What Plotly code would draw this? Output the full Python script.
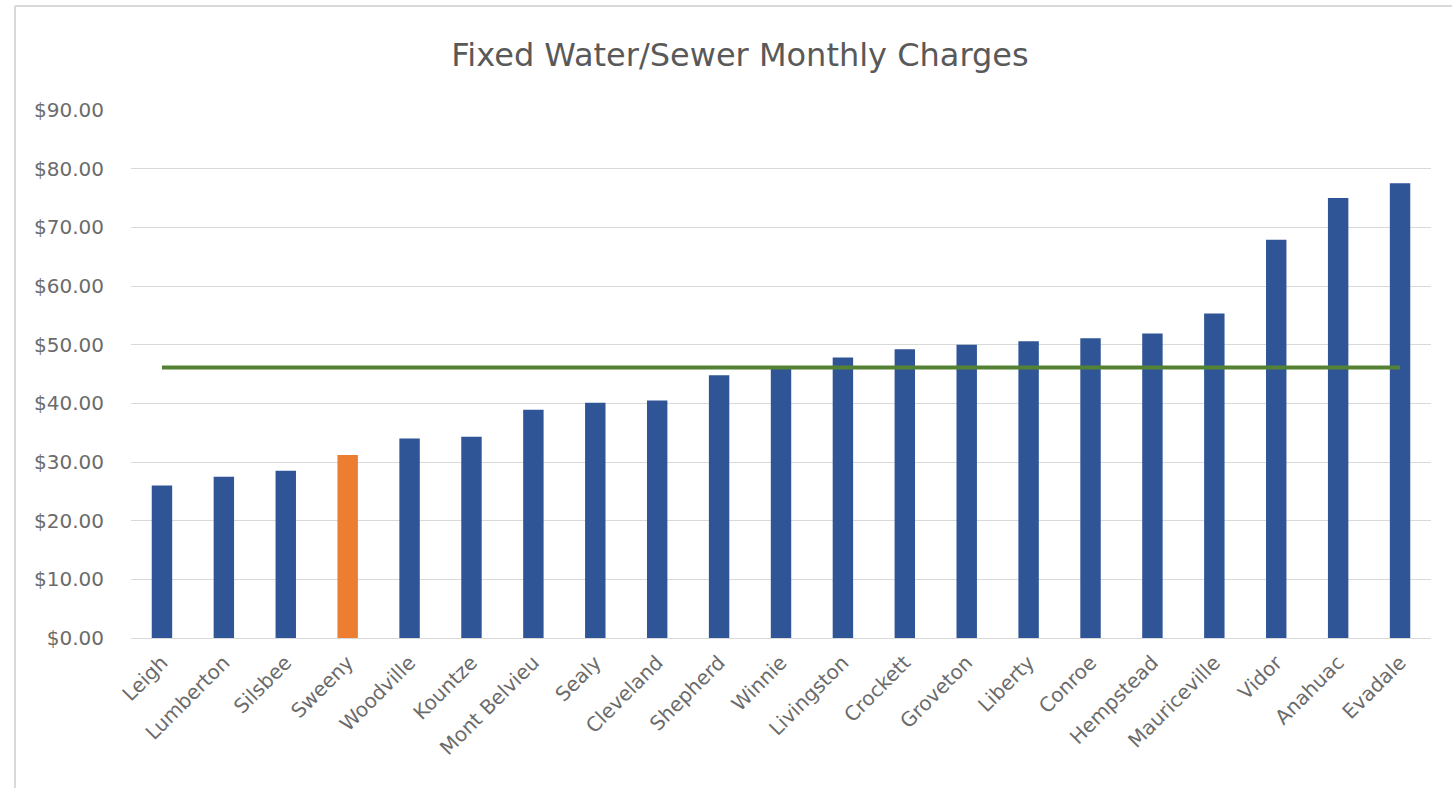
import plotly.graph_objects as go

cities = ["Leigh", "Lumberton", "Silsbee", "Sweeny", "Woodville", "Kountze",
          "Mont Belvieu", "Sealy", "Cleveland", "Shepherd", "Winnie", "Livingston",
          "Crockett", "Groveton", "Liberty", "Conroe", "Hempstead", "Mauriceville",
          "Vidor", "Anahuac", "Evadale"]
charges = [26.0, 27.5, 28.5, 31.2, 34.0, 34.3, 38.9, 40.1, 40.5, 44.8, 46.2, 47.8,
           49.2, 50.0, 50.6, 51.1, 51.9, 55.3, 67.9, 75.0, 77.5]
average_value = 46.1
average_line = [average_value] * len(cities)
highlight_city = "Sweeny"
y_ticks = [0, 10, 20, 30, 40, 50, 60, 70, 80, 90]
y_tick_labels = ["$%.2f" % v for v in y_ticks]

BLUE = "#2F5597"
ORANGE = "#ED7D31"
GREEN = "#548235"
GRAY_TEXT = "#595959"
FONT = "DejaVu Sans, Open Sans, sans-serif"
colors = [ORANGE if c == highlight_city else BLUE for c in cities]

fig = go.Figure()
fig.add_trace(go.Bar(x=cities, y=charges, marker=dict(color=colors, line=dict(width=0)),
                     width=0.33, showlegend=False, hoverinfo="x+y"))
fig.add_trace(go.Scatter(x=cities, y=average_line, mode="lines",
                         line=dict(color=GREEN, width=4), showlegend=False))

W, H = 1452, 788
L, R, T, B = 131, 21, 110, 150
pw, ph = W - L - R, H - T - B

def px_to_paper_x(px):
    return (px - L) / pw

def px_to_paper_y(py):
    return (H - B - py) / ph

fig.update_layout(
    width=W, height=H,
    margin=dict(l=L, r=R, t=T, b=B),
    paper_bgcolor="white", plot_bgcolor="white",
    font=dict(family=FONT, color=GRAY_TEXT),
    title=dict(text="Fixed Water/Sewer Monthly Charges", x=740 / W, xanchor="center",
               y=1 - 55 / H, yanchor="middle",
               font=dict(size=32, color=GRAY_TEXT, family=FONT)),
    xaxis=dict(type="category", tickangle=-45, showgrid=False, showline=True,
               linecolor="#d9d9d9", linewidth=1, ticks="",
               tickfont=dict(size=20, color="#6b6b6b", family=FONT),
               ticklabelstandoff=4,
               range=[-0.5, len(cities) - 0.5]),
    yaxis=dict(range=[0, 90], tickvals=y_ticks, ticktext=y_tick_labels,
               showgrid=True, gridcolor="#d9d9d9", gridwidth=1, zeroline=False,
               showline=False, ticks="", ticklabelstandoff=26,
               tickfont=dict(size=20, color="#6b6b6b", family=FONT)),
    shapes=[
        dict(type="line", xref="paper", yref="paper",
             x0=px_to_paper_x(15), x1=px_to_paper_x(15),
             y0=px_to_paper_y(6), y1=px_to_paper_y(788),
             line=dict(color="#d9d9d9", width=2)),
        dict(type="line", xref="paper", yref="paper",
             x0=px_to_paper_x(15), x1=px_to_paper_x(1452),
             y0=px_to_paper_y(6), y1=px_to_paper_y(6),
             line=dict(color="#d9d9d9", width=2)),
    ],
)

fig.write_html("out.html", config={"displayModeBar": False},
               post_script="document.body.style.margin='0';document.body.style.overflow='hidden';")
